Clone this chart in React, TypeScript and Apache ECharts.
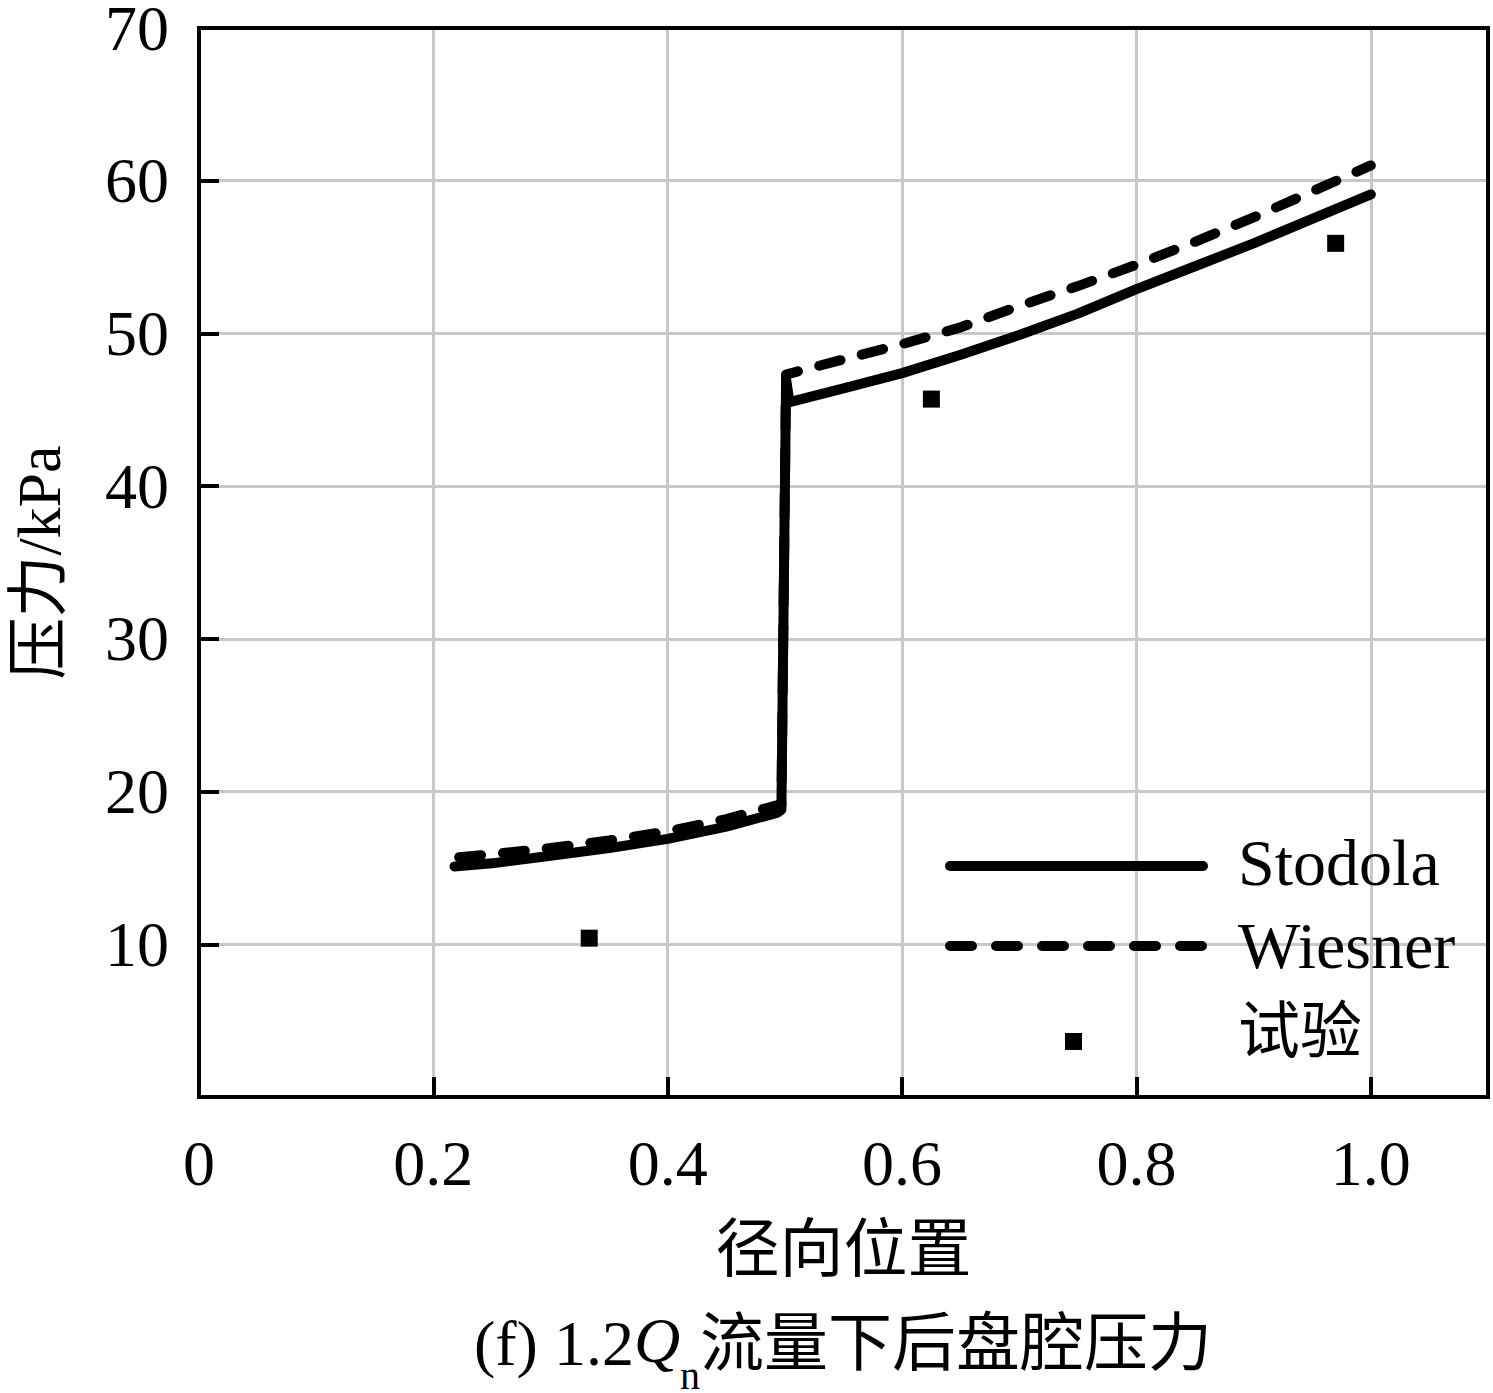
import React, { useEffect, useRef } from "react";
import * as echarts from "echarts";

const SERIF = '"Liberation Serif", "Times New Roman", "Noto Sans CJK SC", serif';

const xTicks = [0, 0.2, 0.4, 0.6, 0.8, 1.0];
const yTicks = [10, 20, 30, 40, 50, 60, 70];

const stodola: [number, number][] = [
  [0.218, 15.1], [0.25, 15.3], [0.3, 15.8], [0.35, 16.3], [0.4, 16.9],
  [0.45, 17.7], [0.493, 18.6], [0.497, 18.8], [0.501, 47.0], [0.504, 45.5],
  [0.55, 46.4], [0.6, 47.4], [0.65, 48.6], [0.7, 49.9], [0.75, 51.3],
  [0.8, 52.9], [0.85, 54.4], [0.9, 55.9], [0.95, 57.5], [1.0, 59.1],
];

const wiesner: [number, number][] = [
  [0.222, 15.7], [0.25, 15.9], [0.3, 16.3], [0.35, 16.8], [0.4, 17.4],
  [0.45, 18.2], [0.493, 19.1], [0.497, 19.1], [0.501, 47.3], [0.515, 47.6],
  [0.55, 48.3], [0.6, 49.3], [0.65, 50.4], [0.7, 51.8], [0.75, 53.1],
  [0.8, 54.5], [0.85, 56.0], [0.9, 57.6], [0.95, 59.3], [1.0, 61.0],
];

const experiment: [number, number][] = [
  [0.333, 10.4], [0.625, 45.7], [0.97, 55.9],
];

const legendNames = ["Stodola", "Wiesner", "试验"];
const xName = "径向位置";
const yName = "压力/kPa";

export default function App() {
  const ref = useRef<HTMLDivElement>(null);
  useEffect(() => {
    if (!ref.current) return;
    const chart = echarts.init(ref.current, undefined, { renderer: "svg" });
    const lineW = 10;
    chart.setOption({
      animation: false,
      backgroundColor: "#ffffff",
      textStyle: { fontFamily: SERIF, color: "#000" },
      grid: {
        left: 199,
        right: 5,
        top: 28,
        bottom: 296,
        show: true,
        borderColor: "#000",
        borderWidth: 4,
        containLabel: false,
        outerBoundsMode: "none",
        z: 5,
      },
      xAxis: {
        type: "value",
        min: 0,
        max: 1.1,
        interval: 0.2,
        name: xName,
        nameLocation: "middle",
        nameGap: 120,
        nameTextStyle: { fontFamily: SERIF, fontSize: 64, color: "#000" },
        axisLine: { show: true, lineStyle: { color: "#000", width: 4 } },
        axisTick: { show: true, inside: true, length: 20, lineStyle: { color: "#000", width: 4 } },
        axisLabel: {
          fontFamily: SERIF,
          fontSize: 64,
          lineHeight: 60,
          color: "#000",
          margin: 36,
          formatter: (v: number) => {
            const t = xTicks.find((k) => Math.abs(k - v) < 1e-6);
            if (t === undefined) return "";
            return t === 0 ? "0" : t.toFixed(1);
          },
        },
        splitLine: { show: true, lineStyle: { color: "#c8c8c8", width: 3 } },
      },
      yAxis: {
        type: "value",
        min: 0,
        max: 70,
        interval: 10,
        name: yName,
        nameLocation: "middle",
        nameGap: 130,
        nameRotate: 90,
        nameTextStyle: { fontFamily: SERIF, fontSize: 62, lineHeight: 60, color: "#000" },
        axisLine: { show: true, lineStyle: { color: "#000", width: 4 } },
        axisTick: { show: true, inside: true, length: 20, lineStyle: { color: "#000", width: 4 } },
        axisLabel: {
          fontFamily: SERIF,
          fontSize: 64,
          lineHeight: 44,
          color: "#000",
          margin: 30,
          formatter: (v: number) => (yTicks.includes(v) ? String(v) : ""),
        },
        splitLine: { show: true, lineStyle: { color: "#c8c8c8", width: 3 } },
      },
      series: [
        {
          name: legendNames[1],
          type: "line",
          data: wiesner,
          showSymbol: false,
          symbol: "none",
          lineStyle: { color: "#000", width: lineW, type: [22, 22], cap: "round", join: "round" },
          z: 3,
        },
        {
          name: legendNames[0],
          type: "line",
          data: stodola,
          showSymbol: false,
          symbol: "none",
          lineStyle: { color: "#000", width: lineW, type: "solid", cap: "round", join: "round" },
          z: 4,
        },
        {
          name: legendNames[2],
          type: "scatter",
          data: experiment,
          symbol: "rect",
          symbolSize: 17,
          itemStyle: { color: "#000", opacity: 1 },
          z: 4,
        },
      ],
      graphic: [
        {
          type: "line",
          shape: { x1: 950, y1: 866, x2: 1203, y2: 866 },
          style: { stroke: "#000", lineWidth: lineW, lineCap: "round" },
          z: 10,
        },
        {
          type: "line",
          shape: { x1: 950, y1: 946, x2: 1203, y2: 946 },
          style: { stroke: "#000", lineWidth: lineW, lineCap: "round", lineDash: [22, 24] },
          z: 10,
        },
        {
          type: "rect",
          shape: { x: 1065, y: 1033, width: 17, height: 17 },
          style: { fill: "#000" },
          z: 10,
        },
        {
          type: "text",
          x: 1238,
          y: 862,
          style: { text: legendNames[0], fontFamily: SERIF, fontSize: 66, fill: "#000", verticalAlign: "middle" },
          z: 10,
        },
        {
          type: "text",
          x: 1238,
          y: 945,
          style: { text: legendNames[1], fontFamily: SERIF, fontSize: 66, fill: "#000", verticalAlign: "middle" },
          z: 10,
        },
        {
          type: "text",
          x: 1238,
          y: 1032,
          style: { text: legendNames[2], fontFamily: SERIF, fontSize: 62, fill: "#000", verticalAlign: "middle" },
          z: 10,
        },
        {
          type: "text",
          x: 843,
          y: 1308,
          style: {
            text: "(f) 1.2{q|Q}{n|n}流量下后盘腔压力",
            fontFamily: SERIF,
            fontSize: 64,
            lineHeight: 70,
            fill: "#000",
            align: "center",
            verticalAlign: "top",
            rich: {
              q: { fontFamily: SERIF, fontSize: 64, fontStyle: "italic", lineHeight: 70, verticalAlign: "top", fill: "#000" },
              n: { fontFamily: SERIF, fontSize: 40, lineHeight: 26, verticalAlign: "top", padding: [48, 0, 0, 0], fill: "#000" },
            },
          },
          z: 10,
        },
      ],
    });
    return () => chart.dispose();
  }, []);
  return (
    <div
      ref={ref}
      style={{ position: "absolute", left: 0, top: 0, width: 1493, height: 1393, background: "#fff" }}
    />
  );
}
